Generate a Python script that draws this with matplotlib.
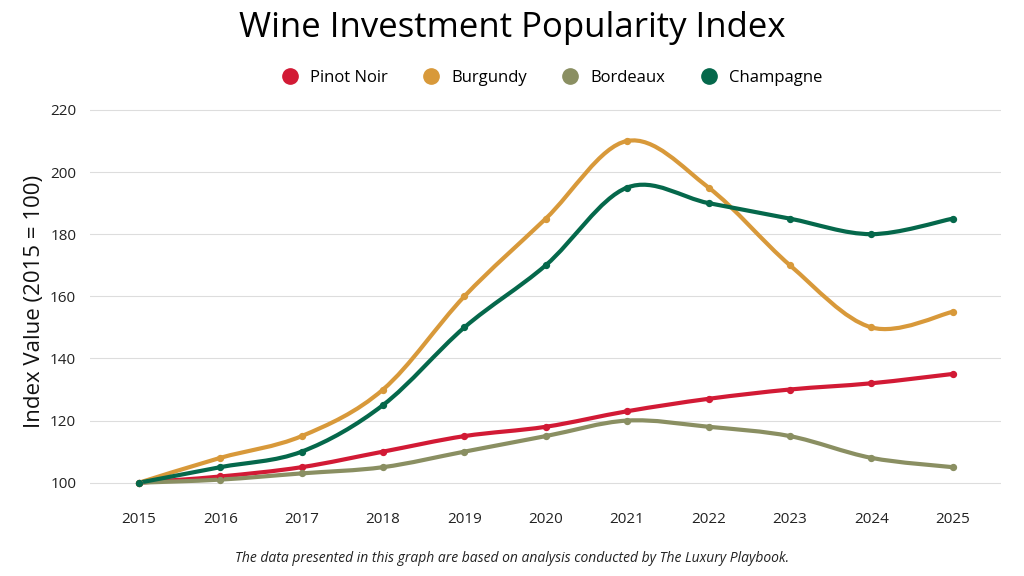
import numpy as np
import matplotlib
matplotlib.use("Agg")
import matplotlib.pyplot as plt
from matplotlib.path import Path
from matplotlib.patches import PathPatch
from matplotlib.lines import Line2D

plt.rcParams['font.family'] = ['Open Sans', 'DejaVu Sans']

years = [2015, 2016, 2017, 2018, 2019, 2020, 2021, 2022, 2023, 2024, 2025]
pinot_noir = [100, 102, 105, 110, 115, 118, 123, 127, 130, 132, 135]
burgundy = [100, 108, 115, 130, 160, 185, 210, 195, 170, 150, 155]
bordeaux = [100, 101, 103, 105, 110, 115, 120, 118, 115, 108, 105]
champagne = [100, 105, 110, 125, 150, 170, 195, 190, 185, 180, 185]

series = [
    ("Pinot Noir", pinot_noir, "#D21A35"),
    ("Burgundy", burgundy, "#D8993A"),
    ("Bordeaux", bordeaux, "#8A8F62"),
    ("Champagne", champagne, "#05684B"),
]


def smooth_path(x, y, t=0.5):
    # Catmull-Rom style cubic Bezier through the data points
    x = np.asarray(x, float)
    y = np.asarray(y, float)
    n = len(x)
    verts = [(x[0], y[0])]
    codes = [Path.MOVETO]
    for i in range(n - 1):
        p0 = i - 1 if i > 0 else i
        p3 = i + 2 if i + 2 < n else i + 1
        c1 = (x[i] + (x[i + 1] - x[p0]) * t / 3, y[i] + (y[i + 1] - y[p0]) * t / 3)
        c2 = (x[i + 1] - (x[p3] - x[i]) * t / 3, y[i + 1] - (y[p3] - y[i]) * t / 3)
        verts += [c1, c2, (x[i + 1], y[i + 1])]
        codes += [Path.CURVE4] * 3
    return Path(verts, codes)


fig = plt.figure(figsize=(10.24, 5.76), dpi=100)
ax = fig.add_axes([0.088, 0.135, 0.89, 0.685])

handles = []
for name, vals, color in series:
    ax.add_patch(PathPatch(smooth_path(years, vals, 0.5), facecolor='none',
                           edgecolor=color, lw=3, capstyle='round', zorder=3))
    ax.scatter(years, vals, s=18, color=color, zorder=4)
    handles.append(Line2D([], [], marker='o', ls='', color=color, markersize=11, label=name))

ax.set_xlim(2014.4, 2025.6)
ax.set_ylim(95, 222)
ax.set_xticks(years)
ax.set_yticks(range(100, 221, 20))
ax.tick_params(length=0, labelsize=11, pad=10, colors='#222222')
ax.grid(axis='y', color='#DDDDDD', lw=0.8)
for s in ax.spines.values():
    s.set_visible(False)
ax.set_ylabel('Index Value (2015 = 100)', fontsize=16, color='#111111')

fig.text(0.5, 0.952, 'Wine Investment Popularity Index', ha='center', va='center', fontsize=25)
fig.legend(handles=handles, loc='center', bbox_to_anchor=(0.535, 0.865), ncol=4, frameon=False,
           fontsize=12, handletextpad=0.2, columnspacing=1.6)
fig.text(0.5, 0.017, 'The data presented in this graph are based on analysis conducted by The Luxury Playbook.',
         ha='center', va='bottom', fontsize=10, style='italic', color='#222222')

fig.savefig('out.png')
